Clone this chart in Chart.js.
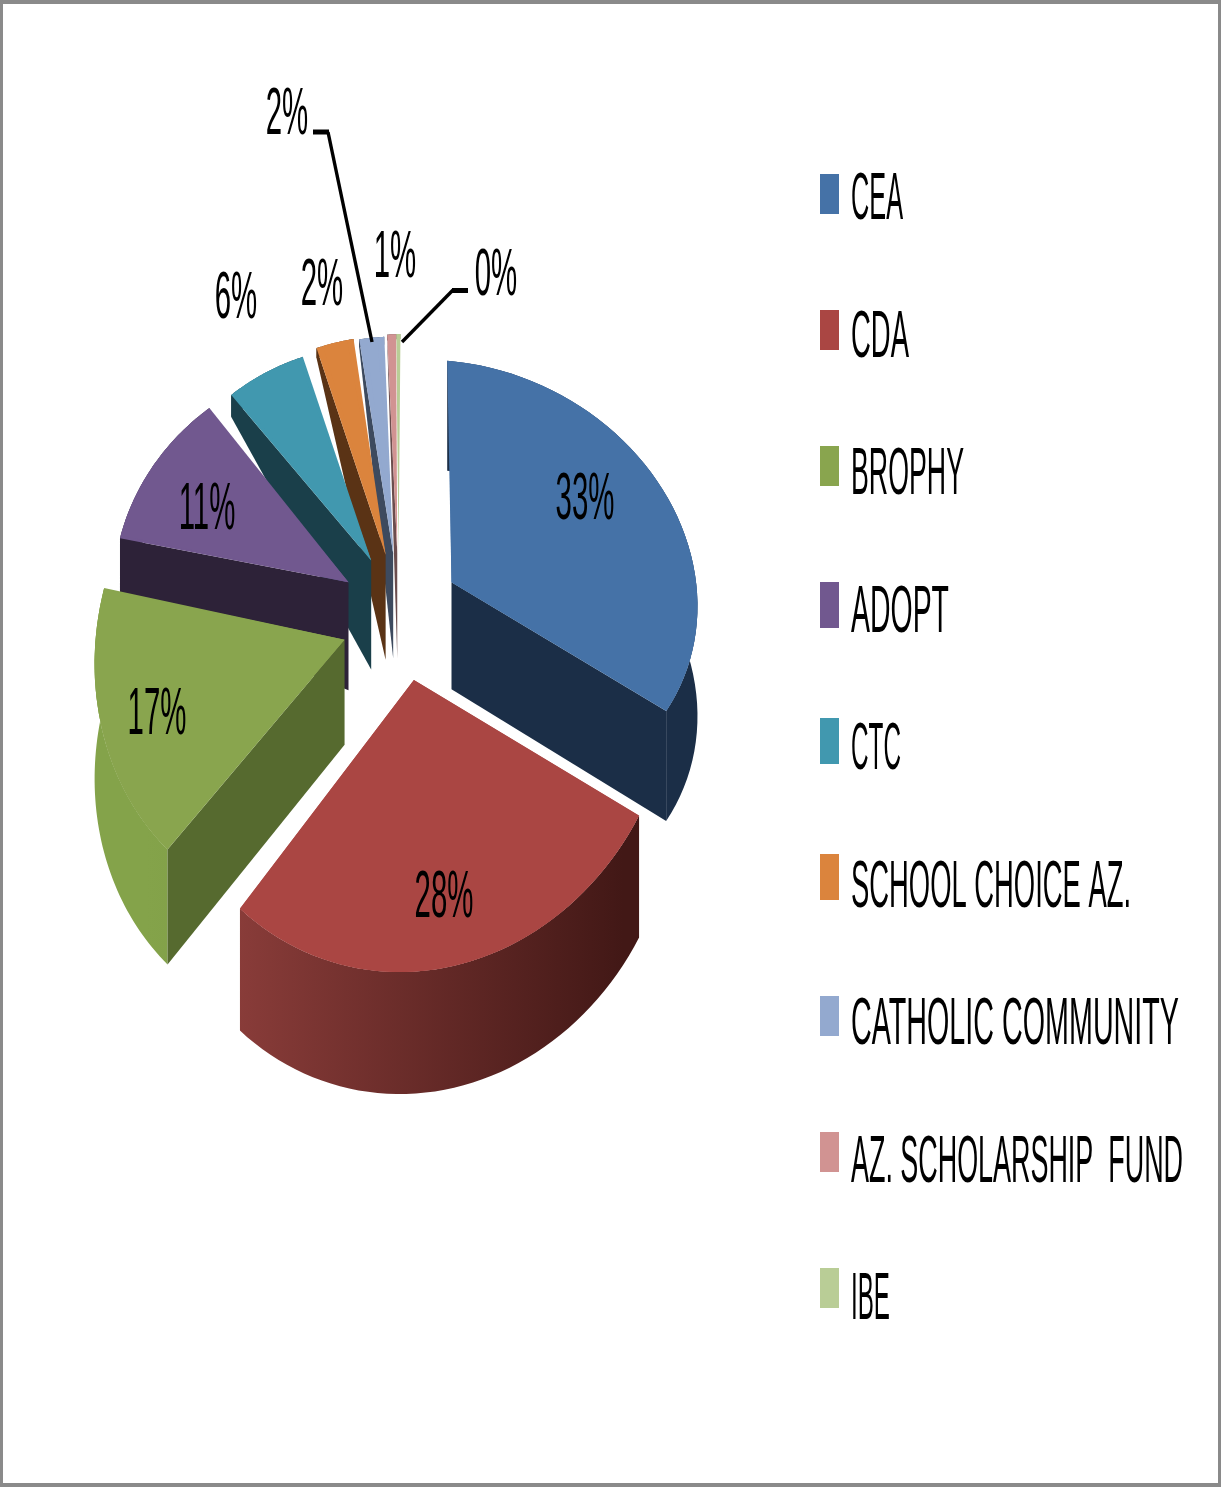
<!DOCTYPE html>
<html>
<head>
<meta charset="utf-8">
<style>
html,body{margin:0;padding:0;background:#fff;overflow:hidden}
#wrap{position:relative;width:1221px;height:1487px}
#frame{position:absolute;left:0;top:0;width:1221px;height:1487px;box-sizing:border-box;border:solid #8a8a8a;border-width:4px 3px 4px 3px;pointer-events:none}
canvas{display:block}
</style>
</head>
<body>
<div id="wrap"><canvas id="c" width="1221" height="1487"></canvas><div id="frame"></div></div>
<script src="https://cdn.jsdelivr.net/npm/chart.js@4"></script>
<script>
const categories = ['CEA','CDA','BROPHY','ADOPT','CTC','SCHOOL CHOICE AZ.','CATHOLIC COMMUNITY','AZ. SCHOLARSHIP  FUND','IBE'];
const values = [33.4, 28.0, 16.9, 11.1, 5.8, 2.45, 1.65, 0.5, 0.2];
const topColors = ['#4572A7','#AA4643','#89A54E','#71588F','#4198AF','#DB843D','#93A9CF','#D19392','#B9CD96'];
const faceColors = ['#1B2E47','#451A18','#566A2F','#2D2238','#1A3F4A','#5A3315','#3D4A5E','#6B4D4D','#7C8A62'];
const wallColors = [['#1B2E47','#1B2E47'],['#8F3F3C','#421816'],['#84A34A','#73903F'],['#2D2238','#2D2238'],['#1A3F4A','#1A3F4A'],['#5A3315','#5A3315'],['#3D4A5E','#3D4A5E'],['#6B4D4D','#6B4D4D'],['#7C8A62','#7C8A62']];
// projection of each slice: 3D tilt approximated per slice as a 2x2 matrix [a,c,e,b]
const tilt = [[246,0,24,221],[262,-7,-8,292],[249,-22,0,274],[235,-12,2,223],[224,-2,-2,215],[246,-8.5,-7,220],[243,-6,0,217],[285,-7.4,0,219],[333,-7.7,0,219]];
const explode = [60,66,62,60,60,60,60,60,60];
const nudge = [[0,0],[2,2],[3,6],[0,0],[0,0],[0,0],[0,0],[0,0],[0,0]];
const apexDepth = [107,115,105,108,109,105,105,105,105];
const rimDepth = [110,122,115,60,22,10,8,6,5];

const total = values.reduce((a,b)=>a+b,0);
const RADIUS = 250;
const offsets = explode.map(e=>e*4);
const labelPos = [[585,497],[444,895],[157,712],[207,507],[236,296],[322,283],[287,112],[395,255],[496,273]];
const leaderLines = [[[328,132],[372,342]],[[453,290],[402,342]]];
const leaderStubs = [[[313,132],[329,132]],[[452,290.5],[468,290.5]]];
const legendWidths = [52,58,113,98,50,280,328,332,39];
const swatchTops = [174,310,446,582,718,854,996,1132,1268];
const swatchHeights = [40,40,40,46,46,46,40,40,40];
const TEXT_SX = 0.445, FONT_SIZE = 66, FONT = FONT_SIZE+'px "Liberation Sans"';

function drawText(ctx,str,x,yCenter,align,width){
  ctx.save();
  ctx.font = FONT;
  const sx = width ? width/ctx.measureText(str).width : TEXT_SX;
  ctx.translate(x,yCenter+FONT_SIZE*0.34);
  ctx.scale(sx,1);
  ctx.fillStyle = '#000';
  ctx.textAlign = align;
  ctx.textBaseline = 'alphabetic';
  ctx.fillText(str,0,0);
  ctx.restore();
}
function strokeLines(ctx,lines,w){
  ctx.lineWidth = w;
  lines.forEach(l=>{
    ctx.beginPath();
    ctx.moveTo(l[0][0],l[0][1]);
    ctx.lineTo(l[1][0],l[1][1]);
    ctx.stroke();
  });
}

const pie3d = {
  id:'pie3d',
  beforeDatasetsDraw(chart){
    const ctx = chart.ctx;
    const arcs = chart.getDatasetMeta(0).data;
    const items = arcs.map((arc,i)=>{
      const mid = (arc.startAngle+arc.endAngle)/2;
      const e = explode[i];
      const bx = arc.x+Math.cos(mid)*e, by = arc.y+Math.sin(mid)*e;
      return {arc,i,mid,e,bx,by,ax:bx+nudge[i][0],ay:by+nudge[i][1]};
    }).sort((p,q)=>p.ay-q.ay);
    items.forEach(({arc,i,mid,e,bx,by,ax,ay})=>{
      const s0 = arc.startAngle, s1 = arc.endAngle;
      const [ma,mc,me,mb] = tilt[i], dr = rimDepth[i], da = apexDepth[i];
      const pt = (t,dy)=>[ax+ma*Math.cos(t)+mc*Math.sin(t), ay+me*Math.cos(t)+mb*Math.sin(t)+dy];
      const N = 48;
      // outer wall
      const g = ctx.createLinearGradient(ax-ma,0,ax+ma,0);
      g.addColorStop(0.1,wallColors[i][0]);
      g.addColorStop(0.9,wallColors[i][1]);
      ctx.fillStyle = g;
      ctx.beginPath();
      for(let k=0;k<=N;k++){const p=pt(s0+(s1-s0)*k/N,0); k?ctx.lineTo(p[0],p[1]):ctx.moveTo(p[0],p[1]);}
      for(let k=N;k>=0;k--){const p=pt(s0+(s1-s0)*k/N,dr); ctx.lineTo(p[0],p[1]);}
      ctx.closePath();
      ctx.fill();
      // radial cut faces
      const m = [Math.cos(mid),Math.sin(mid)];
      [s0,s1].forEach(t=>{
        const n = [Math.cos(t),Math.sin(t)];
        if(Math.abs(n[0])<0.05) return;
        const cross = (n[0]*m[1]-n[1]*m[0])*Math.sign(n[0]);
        if(cross>=0) return;
        const tip = pt(t,0);
        ctx.fillStyle = faceColors[i];
        ctx.beginPath();
        ctx.moveTo(ax,ay);
        ctx.lineTo(tip[0],tip[1]);
        ctx.lineTo(tip[0],tip[1]+dr);
        ctx.lineTo(ax,ay+da);
        ctx.closePath();
        ctx.fill();
      });
      // base coat under the top surface closes antialiasing seams
      ctx.fillStyle = topColors[i];
      ctx.beginPath();
      ctx.moveTo(ax,ay);
      for(let k=0;k<=N;k++){const p=pt(s0+(s1-s0)*k/N,0); ctx.lineTo(p[0],p[1]);}
      ctx.closePath();
      ctx.fill();
      // top surface, drawn by the library's arc element
      const drawnR = arc.outerRadius+e*(1-Math.sin(Math.min(Math.PI,s1-s0)));
      ctx.save();
      ctx.translate(ax,ay);
      ctx.transform(ma/drawnR,me/drawnR,mc/drawnR,mb/drawnR,0,0);
      ctx.translate(-bx,-by);
      arc.draw(ctx);
      ctx.restore();
    });
    return false;
  },
  afterDraw(chart){
    const ctx = chart.ctx;
    ctx.save();
    ctx.strokeStyle = '#000';
    strokeLines(ctx,leaderLines,3.4);
    strokeLines(ctx,leaderStubs,5);
    ctx.restore();
    values.forEach((v,i)=>{
      drawText(ctx,Math.round(v/total*100)+'%',labelPos[i][0],labelPos[i][1],'center');
    });
    categories.forEach((c,i)=>{
      ctx.fillStyle = topColors[i];
      ctx.fillRect(820,swatchTops[i],19,swatchHeights[i]);
      drawText(ctx,c,851,197+i*137.5,'left',legendWidths[i]);
    });
  }
};

new Chart(document.getElementById('c'),{
  type:'pie',
  data:{labels:categories,datasets:[{data:values,backgroundColor:topColors,borderWidth:0,offset:offsets,radius:RADIUS}]},
  options:{
    responsive:false,
    devicePixelRatio:1,
    animation:false,
    rotation:-1,
    layout:{padding:{left:0,top:0,right:421,bottom:261}},
    plugins:{legend:{display:false},tooltip:{enabled:false}}
  },
  plugins:[pie3d]
});
</script>
</body>
</html>
